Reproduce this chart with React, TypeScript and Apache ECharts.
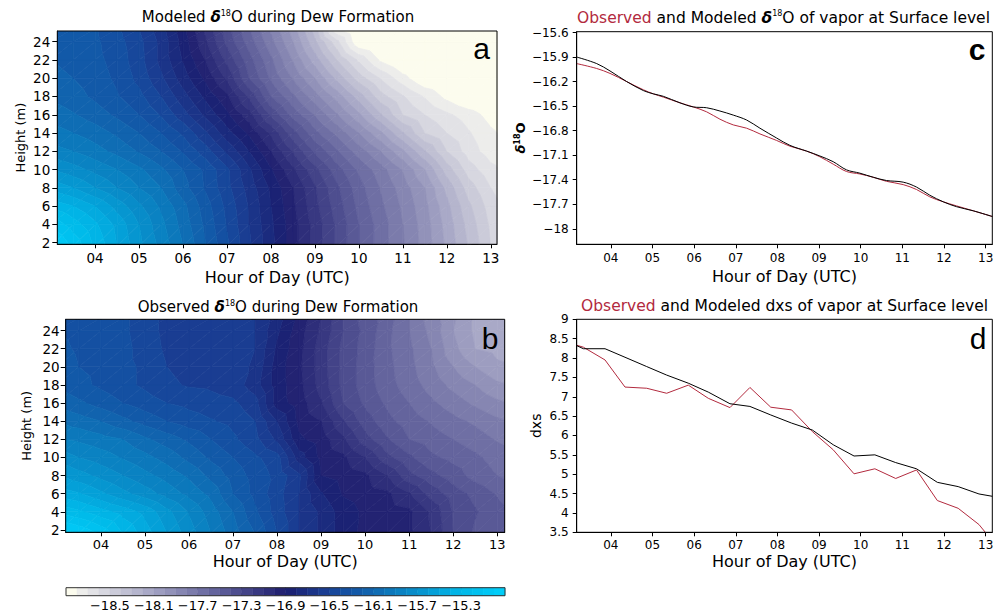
import React, { useEffect, useRef } from 'react';
import * as echarts from 'echarts';

const FONT = '"DejaVu Sans", "Liberation Sans", sans-serif';
const RED = '#b22a3e';

// Grid nodes of the two contour panels
const HOURS = [3.0, 3.5, 4.0, 4.5, 5.0, 5.5, 6.0, 6.5, 7.0, 7.5, 8.0, 8.5, 9.0, 9.5, 10.0, 10.5, 11.0, 11.5, 12.0, 12.5, 13.0, 13.5];
const HEIGHTS = [1.6, 4, 6, 8, 10, 12, 14, 16, 18, 20, 22, 24, 25.4];

// rows: bottom (HEIGHTS[0]) to top; columns follow HOURS
const MODELED_D18O = [
  [-14.95, -15.12, -15.32, -15.5, -15.67, -15.83, -16.0, -16.19, -16.38, -16.58, -16.77, -16.96, -17.14, -17.32, -17.5, -17.65, -17.79, -17.94, -18.12, -18.31, -18.5, -18.62],
  [-15.12, -15.25, -15.38, -15.53, -15.7, -15.87, -16.04, -16.22, -16.41, -16.6, -16.78, -16.96, -17.14, -17.32, -17.5, -17.65, -17.8, -17.95, -18.14, -18.34, -18.52, -18.65],
  [-15.33, -15.4, -15.5, -15.64, -15.78, -15.92, -16.07, -16.25, -16.43, -16.61, -16.8, -16.98, -17.17, -17.35, -17.53, -17.68, -17.82, -17.97, -18.17, -18.38, -18.55, -18.68],
  [-15.53, -15.6, -15.7, -15.8, -15.9, -16.0, -16.16, -16.31, -16.47, -16.64, -16.82, -17.0, -17.19, -17.38, -17.56, -17.71, -17.85, -18.0, -18.23, -18.45, -18.6, -18.7],
  [-15.7, -15.76, -15.83, -15.9, -15.98, -16.08, -16.2, -16.32, -16.48, -16.68, -16.89, -17.08, -17.27, -17.46, -17.62, -17.76, -17.91, -18.1, -18.35, -18.55, -18.67, -18.75],
  [-15.86, -15.9, -15.96, -16.03, -16.11, -16.2, -16.31, -16.45, -16.62, -16.8, -17.0, -17.21, -17.42, -17.59, -17.75, -17.9, -18.08, -18.29, -18.5, -18.65, -18.75, -18.8],
  [-15.95, -16.0, -16.05, -16.12, -16.2, -16.3, -16.42, -16.58, -16.76, -16.92, -17.12, -17.36, -17.57, -17.73, -17.9, -18.08, -18.29, -18.5, -18.6, -18.69, -18.78, -18.85],
  [-16.04, -16.09, -16.15, -16.22, -16.3, -16.41, -16.56, -16.72, -16.88, -17.06, -17.32, -17.54, -17.71, -17.89, -18.08, -18.29, -18.5, -18.6, -18.68, -18.75, -18.84, -18.9],
  [-16.12, -16.16, -16.22, -16.29, -16.37, -16.5, -16.66, -16.82, -16.98, -17.22, -17.5, -17.68, -17.86, -18.04, -18.25, -18.46, -18.59, -18.71, -18.83, -18.92, -18.96, -19.0],
  [-16.17, -16.2, -16.25, -16.32, -16.43, -16.58, -16.75, -16.92, -17.12, -17.4, -17.62, -17.81, -18.0, -18.23, -18.45, -18.61, -18.76, -18.9, -18.95, -19.0, -19.0, -19.0],
  [-16.2, -16.23, -16.27, -16.34, -16.46, -16.63, -16.81, -17.0, -17.23, -17.46, -17.68, -17.91, -18.15, -18.4, -18.62, -18.82, -18.93, -19.0, -19.0, -19.0, -19.0, -19.0],
  [-16.23, -16.25, -16.28, -16.36, -16.47, -16.63, -16.84, -17.08, -17.33, -17.55, -17.77, -18.0, -18.28, -18.57, -18.9, -18.98, -19.0, -19.0, -19.0, -19.0, -19.0, -19.0],
  [-16.23, -16.25, -16.29, -16.38, -16.5, -16.66, -16.87, -17.12, -17.36, -17.59, -17.82, -18.05, -18.35, -18.8, -18.95, -19.0, -19.0, -19.0, -19.0, -19.0, -19.0, -19.0],
];

const OBSERVED_D18O = [
  [-14.92, -15.0, -15.12, -15.3, -15.45, -15.6, -15.75, -15.9, -16.05, -16.2, -16.4, -16.6, -16.72, -16.85, -16.93, -16.96, -16.98, -17.1, -17.3, -17.42, -17.48, -17.5],
  [-15.22, -15.28, -15.36, -15.44, -15.53, -15.67, -15.81, -15.95, -16.1, -16.28, -16.45, -16.6, -16.72, -16.85, -16.92, -16.95, -16.98, -17.12, -17.31, -17.39, -17.46, -17.52],
  [-15.44, -15.49, -15.58, -15.67, -15.75, -15.84, -15.93, -16.03, -16.2, -16.33, -16.46, -16.6, -16.79, -16.91, -16.95, -16.98, -17.09, -17.24, -17.35, -17.43, -17.51, -17.58],
  [-15.59, -15.66, -15.73, -15.8, -15.87, -15.94, -16.02, -16.13, -16.24, -16.34, -16.43, -16.58, -16.9, -16.94, -16.98, -17.1, -17.27, -17.37, -17.45, -17.54, -17.6, -17.65],
  [-15.74, -15.8, -15.85, -15.91, -15.97, -16.04, -16.13, -16.22, -16.3, -16.38, -16.46, -16.75, -16.93, -16.98, -17.1, -17.27, -17.38, -17.48, -17.53, -17.58, -17.64, -17.68],
  [-15.89, -15.92, -15.96, -16.0, -16.08, -16.15, -16.22, -16.3, -16.38, -16.47, -16.62, -16.88, -16.95, -17.08, -17.26, -17.39, -17.5, -17.55, -17.6, -17.65, -17.71, -17.75],
  [-16.0, -16.05, -16.1, -16.17, -16.24, -16.3, -16.35, -16.39, -16.43, -16.5, -16.7, -16.93, -17.0, -17.19, -17.35, -17.47, -17.55, -17.61, -17.67, -17.72, -17.78, -17.82],
  [-16.12, -16.18, -16.24, -16.3, -16.35, -16.4, -16.43, -16.46, -16.48, -16.56, -16.85, -16.95, -17.09, -17.3, -17.42, -17.52, -17.6, -17.68, -17.75, -17.82, -17.88, -17.92],
  [-16.22, -16.27, -16.32, -16.37, -16.42, -16.48, -16.51, -16.52, -16.55, -16.65, -16.85, -16.97, -17.14, -17.33, -17.45, -17.56, -17.65, -17.74, -17.83, -17.9, -17.98, -18.02],
  [-16.26, -16.3, -16.33, -16.37, -16.42, -16.5, -16.53, -16.53, -16.55, -16.62, -16.85, -16.98, -17.15, -17.33, -17.45, -17.57, -17.67, -17.78, -17.9, -18.0, -18.08, -18.1],
  [-16.28, -16.31, -16.34, -16.37, -16.44, -16.52, -16.54, -16.55, -16.56, -16.6, -16.82, -16.97, -17.15, -17.33, -17.44, -17.58, -17.68, -17.8, -17.97, -18.1, -18.13, -18.15],
  [-16.3, -16.32, -16.35, -16.38, -16.45, -16.53, -16.55, -16.56, -16.57, -16.6, -16.78, -16.96, -17.12, -17.3, -17.43, -17.57, -17.7, -17.83, -18.0, -18.12, -18.15, -18.15],
  [-16.3, -16.32, -16.35, -16.38, -16.45, -16.53, -16.55, -16.56, -16.57, -16.6, -16.75, -16.93, -17.1, -17.3, -17.45, -17.55, -17.7, -17.85, -17.98, -18.12, -18.15, -18.15],
];

// contour levels: 40 bands of 0.1 from -18.9 to -14.9
const LEVEL_MIN = -18.9;
const LEVEL_STEP = 0.1;
const LEVEL_COLORS = [
  '#fcfcee', '#ededeb', '#e2e2e6', '#d7d7e0',
  '#cbcbd9', '#c0c0d3', '#b5b5cd', '#a9a9c7',
  '#9d9dc0', '#9292b9', '#8686b2', '#7b7bab',
  '#6f6fa4', '#64649d', '#595996', '#4e4e8f',
  '#434388', '#383881', '#2e2e7a', '#232372',
  '#1b2274', '#1b2b7e', '#1b3488', '#1a3d92',
  '#17479b', '#1450a2', '#1259a8', '#1163ae',
  '#0f6db4', '#0c78bb', '#0a82c2', '#088cc9',
  '#0696d0', '#04a0d8', '#03aadf', '#01b4e6',
  '#00bbea', '#00c1ef', '#00c7f4', '#00cdf8',
];
const COLORBAR_TICKS = [-18.5, -18.1, -17.7, -17.3, -16.9, -16.5, -16.1, -15.7, -15.3];
const HOUR_TICKS = [4, 5, 6, 7, 8, 9, 10, 11, 12, 13];
const HEIGHT_TICKS = [2, 4, 6, 8, 10, 12, 14, 16, 18, 20, 22, 24];
const D18O_TICKS = [-15.6, -15.9, -16.2, -16.5, -16.8, -17.1, -17.4, -17.7, -18];

// panel c: surface δ18O
const C_TIMES = [3.18, 3.66, 3.98, 4.38, 4.78, 5.02, 5.26, 5.66, 5.98, 6.3, 6.62, 6.94, 7.26, 7.58, 7.98, 8.3, 8.7, 9.02, 9.34, 9.66, 9.98, 10.3, 10.62, 11.02, 11.34, 11.66, 11.98, 12.3, 12.7, 13.16];
const C_MODELED = [-15.9, -15.98, -16.07, -16.2, -16.31, -16.35, -16.38, -16.46, -16.51, -16.52, -16.56, -16.61, -16.67, -16.77, -16.89, -16.98, -17.05, -17.11, -17.18, -17.28, -17.32, -17.37, -17.41, -17.43, -17.49, -17.59, -17.67, -17.73, -17.78, -17.85];
const C_OBSERVED = [-15.98, -16.04, -16.1, -16.2, -16.3, -16.35, -16.39, -16.46, -16.51, -16.57, -16.66, -16.73, -16.77, -16.84, -16.92, -16.99, -17.05, -17.12, -17.21, -17.3, -17.33, -17.37, -17.42, -17.46, -17.52, -17.61, -17.67, -17.72, -17.78, -17.85];

// panel d: surface dxs
const D_TIMES = [3.18, 3.34, 3.86, 4.34, 4.86, 5.34, 5.86, 6.34, 6.86, 7.34, 7.84, 8.34, 8.84, 9.34, 9.84, 10.34, 10.84, 11.34, 11.84, 12.34, 12.84, 13.16];
const D_MODELED = [8.32, 8.24, 8.24, 8.02, 7.78, 7.56, 7.35, 7.12, 6.82, 6.75, 6.53, 6.32, 6.14, 5.76, 5.47, 5.5, 5.3, 5.14, 4.79, 4.68, 4.49, 4.43];
const D_OBSERVED = [8.33, 8.28, 7.95, 7.25, 7.22, 7.09, 7.3, 6.96, 6.72, 7.24, 6.73, 6.66, 6.1, 5.63, 5.01, 5.14, 4.89, 5.11, 4.32, 4.12, 3.7, 3.28];

const NB = LEVEL_COLORS.length;

function bandOf(v: number) {
  const k = Math.floor((v - LEVEL_MIN) / LEVEL_STEP + 1e-7);
  return Math.max(0, Math.min(NB - 1, k));
}

function clipPoly(poly: number[][], above: boolean, level: number) {
  const out: number[][] = [];
  for (let i = 0; i < poly.length; i++) {
    const a = poly[i];
    const b = poly[(i + 1) % poly.length];
    const ina = above ? a[2] >= level : a[2] <= level;
    const inb = above ? b[2] >= level : b[2] <= level;
    if (ina) out.push(a);
    if (ina !== inb) {
      const t = (level - a[2]) / (b[2] - a[2]);
      out.push([a[0] + t * (b[0] - a[0]), a[1] + t * (b[1] - a[1]), level]);
    }
  }
  return out;
}

function contourCells(values: number[][]) {
  const cells: number[][] = [];
  for (let r = 0; r < HEIGHTS.length - 1; r++) {
    for (let c = 0; c < HOURS.length - 1; c++) {
      cells.push([HOURS[c], HEIGHTS[r], HOURS[c + 1], HEIGHTS[r + 1], values[r][c], values[r][c + 1], values[r + 1][c], values[r + 1][c + 1]]);
    }
  }
  return cells;
}

function contourRender(params: any, api: any) {
  const x0 = api.value(0), y0 = api.value(1), x1 = api.value(2), y1 = api.value(3);
  const p00 = api.coord([x0, y0]);
  const p10 = api.coord([x1, y0]);
  const p01 = api.coord([x0, y1]);
  const p11 = api.coord([x1, y1]);
  const v00 = api.value(4), v10 = api.value(5), v01 = api.value(6), v11 = api.value(7);
  const tris = [
    [[p00[0], p00[1], v00], [p10[0], p10[1], v10], [p11[0], p11[1], v11]],
    [[p00[0], p00[1], v00], [p11[0], p11[1], v11], [p01[0], p01[1], v01]],
  ];
  const children: any[] = [];
  for (const tri of tris) {
    const vs = tri.map((p) => p[2]);
    const kmin = bandOf(Math.min(...vs));
    const kmax = bandOf(Math.max(...vs));
    for (let k = kmin; k <= kmax; k++) {
      let poly = tri;
      if (k > 0) poly = clipPoly(poly, true, LEVEL_MIN + k * LEVEL_STEP);
      if (k < NB - 1 && poly.length) poly = clipPoly(poly, false, LEVEL_MIN + (k + 1) * LEVEL_STEP);
      if (poly.length >= 3) {
        children.push({
          type: 'polygon',
          shape: { points: poly.map((p) => [p[0], p[1]]) },
          style: { fill: LEVEL_COLORS[k], stroke: LEVEL_COLORS[k], lineWidth: 0.7 },
        });
      }
    }
  }
  return { type: 'group', children };
}

const pad2 = (v: number) => {
  const n = Math.round(v);
  return (n < 10 ? '0' : '') + n;
};
const minus = (v: number) => String(v).replace('-', '\u2212');

function hourAxis(gridIndex: number, min: number, max: number, fontSize: number, margin: number, nameGap: number) {
  return {
    type: 'value',
    gridIndex,
    min,
    max,
    axisLine: { show: true, onZero: false, lineStyle: { color: '#000', width: 1 } },
    axisTick: { show: true, inside: false, length: 4, customValues: HOUR_TICKS, lineStyle: { color: '#000', width: 1 } },
    axisLabel: { show: true, customValues: HOUR_TICKS, formatter: pad2, fontSize, lineHeight: fontSize, fontFamily: FONT, color: '#000', margin },
    splitLine: { show: false },
    name: 'Hour of Day (UTC)',
    nameLocation: 'middle',
    nameGap,
    nameMoveOverlap: false,
    nameTextStyle: { fontSize: 16, lineHeight: 16, fontFamily: FONT, color: '#000' },
  };
}

function titleRich(size: number) {
  return {
    s: { fontSize: 8, fontFamily: FONT, verticalAlign: 'top', fill: '#000' },
    d: { fontSize: size, fontFamily: FONT, fontStyle: 'italic', fontWeight: 'bold', fill: '#000' },
    r: { fontSize: size, fontFamily: FONT, fill: RED },
  };
}

function titleText(x: number, y: number, text: string, size: number) {
  return {
    type: 'text',
    x,
    y,
    z: 20,
    style: {
      text,
      fill: '#000',
      fontSize: size,
      fontFamily: FONT,
      align: 'center',
      verticalAlign: 'middle',
      textAlign: 'center',
      textVerticalAlign: 'middle',
      rich: titleRich(size),
    },
  };
}

function panelLetter(x: number, y: number, text: string, bold = false) {
  return {
    type: 'text',
    x,
    y,
    z: 20,
    style: {
      text,
      fill: '#000',
      fontSize: 30,
      fontWeight: bold ? 'bold' : 'normal',
      fontFamily: '"Liberation Sans", Arial, sans-serif',
      align: 'center',
      verticalAlign: 'middle',
      textAlign: 'center',
      textVerticalAlign: 'middle',
    },
  };
}

function buildOption(): any {
  const gridBase = { show: true, borderColor: '#000', borderWidth: 1, backgroundColor: 'transparent', containLabel: false, outerBoundsMode: 'none', z: 10 };
  return {
    animation: false,
    backgroundColor: '#fff',
    grid: [
      { ...gridBase, left: 57.3, top: 31, width: 439.7, height: 213.3 },
      { ...gridBase, left: 65.7, top: 319.3, width: 439, height: 213 },
      { ...gridBase, left: 576.7, top: 31.7, width: 415.6, height: 212.6 },
      { ...gridBase, left: 576.7, top: 319.3, width: 415.6, height: 213 },
      { ...gridBase, left: 66, top: 587.7, width: 439, height: 8, borderColor: '#333' },
    ],
    xAxis: [
      hourAxis(0, 3.14, 13.14, 13.5, 7, 25),
      hourAxis(1, 3.2, 13.17, 13, 6, 21),
      hourAxis(2, 3.18, 13.16, 12, 7.5, 24),
      hourAxis(3, 3.18, 13.16, 12, 7, 21),
      {
        type: 'value', gridIndex: 4, min: LEVEL_MIN, max: LEVEL_MIN + NB * LEVEL_STEP, position: 'bottom',
        axisLine: { show: false },
        axisTick: { show: true, inside: true, length: 2.5, customValues: COLORBAR_TICKS, lineStyle: { color: '#333', width: 1 } },
        axisLabel: { show: true, customValues: COLORBAR_TICKS, formatter: minus, fontSize: 13, lineHeight: 13, fontFamily: FONT, color: '#000', margin: 3 },
        splitLine: { show: false },
      },
      {
        type: 'value', gridIndex: 4, min: LEVEL_MIN, max: LEVEL_MIN + NB * LEVEL_STEP, position: 'top',
        axisLine: { show: false },
        axisTick: { show: true, inside: true, length: 2.5, customValues: COLORBAR_TICKS, lineStyle: { color: '#333', width: 1 } },
        axisLabel: { show: false },
        splitLine: { show: false },
      },
    ],
    yAxis: [
      {
        type: 'value', gridIndex: 0, min: 1.82, max: 25.17,
        axisLine: { show: true, onZero: false, lineStyle: { color: '#000', width: 1 } },
        axisTick: { show: true, length: 5, customValues: HEIGHT_TICKS, lineStyle: { color: '#000' } },
        axisLabel: { customValues: HEIGHT_TICKS, fontSize: 13.5, fontFamily: FONT, color: '#000', margin: 7 },
        splitLine: { show: false },
        name: 'Height (m)', nameLocation: 'middle', nameGap: 30, nameMoveOverlap: false,
        nameTextStyle: { fontSize: 13, fontFamily: FONT, color: '#000' },
      },
      {
        type: 'value', gridIndex: 1, min: 1.74, max: 25.25,
        axisLine: { show: true, onZero: false, lineStyle: { color: '#000', width: 1 } },
        axisTick: { show: true, length: 5, customValues: HEIGHT_TICKS, lineStyle: { color: '#000' } },
        axisLabel: { customValues: HEIGHT_TICKS, fontSize: 13.5, fontFamily: FONT, color: '#000', margin: 6 },
        splitLine: { show: false },
        name: 'Height (m)', nameLocation: 'middle', nameGap: 33, nameMoveOverlap: false,
        nameTextStyle: { fontSize: 13, fontFamily: FONT, color: '#000' },
      },
      {
        type: 'value', gridIndex: 2, min: -18.19, max: -15.59,
        axisLine: { show: true, onZero: false, lineStyle: { color: '#000', width: 1 } },
        axisTick: { show: true, length: 4, customValues: D18O_TICKS, lineStyle: { color: '#000' } },
        axisLabel: { customValues: D18O_TICKS, formatter: minus, fontSize: 12, fontFamily: FONT, color: '#000', margin: 8 },
        splitLine: { show: false },
        name: '{d|\u03b4}{s|18}{o|O}', nameLocation: 'middle', nameGap: 50, nameMoveOverlap: false,
        nameTextStyle: {
          fontSize: 13, fontFamily: FONT, fontWeight: 'bold', color: '#000',
          rich: {
            d: { fontSize: 13, fontFamily: FONT, fontWeight: 'bold', fontStyle: 'italic', color: '#000' },
            s: { fontSize: 8, fontFamily: FONT, fontWeight: 'bold', color: '#000', verticalAlign: 'top' },
            o: { fontSize: 13, fontFamily: FONT, fontWeight: 'bold', color: '#000' },
          },
        },
      },
      {
        type: 'value', gridIndex: 3, min: 3.5, max: 9, interval: 0.5,
        axisLine: { show: true, onZero: false, lineStyle: { color: '#000', width: 1 } },
        axisTick: { show: true, length: 4, lineStyle: { color: '#000' } },
        axisLabel: { fontSize: 12, fontFamily: FONT, color: '#000', margin: 8 },
        splitLine: { show: false },
        name: 'dxs', nameLocation: 'middle', nameGap: 34, nameMoveOverlap: false,
        nameTextStyle: { fontSize: 14, fontFamily: FONT, color: '#000' },
      },
      {
        type: 'value', gridIndex: 4, min: 0, max: 1, show: false,
      },
    ],
    graphic: [
      titleText(278, 17, 'Modeled {d|\u03b4}{s|18}O during Dew Formation', 15),
      titleText(278, 307, 'Observed {d|\u03b4}{s|18}O during Dew Formation', 15),
      titleText(783.5, 17.5, '{r|Observed} and Modeled {d|\u03b4}{s|18}O of vapor at Surface level', 15.5),
      titleText(784.5, 306, '{r|Observed} and Modeled dxs of vapor at Surface level', 15.5),
      panelLetter(481.5, 48, 'a'),
      panelLetter(490, 338, 'b'),
      panelLetter(977, 49, 'c', true),
      panelLetter(978, 338, 'd'),
    ],
    series: [
      {
        type: 'custom', name: 'Modeled d18O', xAxisIndex: 0, yAxisIndex: 0, clip: true, silent: true,
        renderItem: contourRender, data: contourCells(MODELED_D18O),
      },
      {
        type: 'custom', name: 'Observed d18O', xAxisIndex: 1, yAxisIndex: 1, clip: true, silent: true,
        renderItem: contourRender, data: contourCells(OBSERVED_D18O),
      },
      {
        type: 'line', name: 'Observed', xAxisIndex: 2, yAxisIndex: 2, showSymbol: false, smooth: 0.35, silent: true,
        lineStyle: { color: RED, width: 1 }, itemStyle: { color: RED },
        data: C_TIMES.map((t, i) => [t, C_OBSERVED[i]]),
      },
      {
        type: 'line', name: 'Modeled', xAxisIndex: 2, yAxisIndex: 2, showSymbol: false, smooth: 0.35, silent: true,
        lineStyle: { color: '#000', width: 1 }, itemStyle: { color: '#000' },
        data: C_TIMES.map((t, i) => [t, C_MODELED[i]]),
      },
      {
        type: 'line', name: 'Observed dxs', xAxisIndex: 3, yAxisIndex: 3, showSymbol: false, silent: true,
        lineStyle: { color: RED, width: 1 }, itemStyle: { color: RED },
        data: D_TIMES.map((t, i) => [t, D_OBSERVED[i]]),
      },
      {
        type: 'line', name: 'Modeled dxs', xAxisIndex: 3, yAxisIndex: 3, showSymbol: false, silent: true,
        lineStyle: { color: '#000', width: 1 }, itemStyle: { color: '#000' },
        data: D_TIMES.map((t, i) => [t, D_MODELED[i]]),
      },
      {
        type: 'custom', name: 'colorbar', xAxisIndex: 4, yAxisIndex: 4, silent: true,
        renderItem: (params: any, api: any) => {
          const i = api.value(2);
          const p0 = api.coord([api.value(0), 0]);
          const p1 = api.coord([api.value(1), 1]);
          return {
            type: 'rect',
            shape: { x: p0[0], y: p1[1], width: p1[0] - p0[0], height: p0[1] - p1[1] },
            style: { fill: LEVEL_COLORS[i], stroke: LEVEL_COLORS[i], lineWidth: 0.5 },
          };
        },
        data: LEVEL_COLORS.map((_, i) => [LEVEL_MIN + i * LEVEL_STEP, LEVEL_MIN + (i + 1) * LEVEL_STEP, i]),
      },
    ],
  };
}

export default function App() {
  const ref = useRef<HTMLDivElement>(null);
  useEffect(() => {
    document.body.style.margin = '0';
    const chart = echarts.init(ref.current as HTMLDivElement, null, { renderer: 'svg' });
    chart.setOption(buildOption());
    return () => chart.dispose();
  }, []);
  return <div ref={ref} style={{ width: 995, height: 612, background: '#fff' }} />;
}
